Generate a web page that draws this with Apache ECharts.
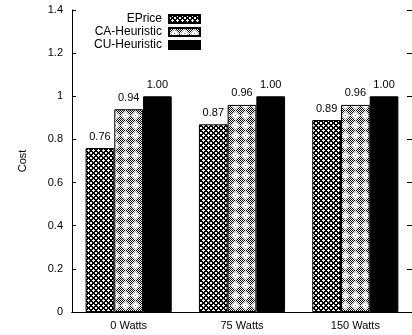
<!DOCTYPE html>
<html>
<head>
<meta charset="utf-8">
<script src="https://cdn.jsdelivr.net/npm/echarts@6/dist/echarts.min.js"></script>
<style>
  html, body { margin: 0; padding: 0; background: #fff; }
  #chart { width: 412px; height: 335px; }
</style>
</head>
<body>
<div id="chart"></div>
<script>
const categories = ['0 Watts', '75 Watts', '150 Watts']
const ePrice = [0.76, 0.87, 0.89]
const caHeuristic = [0.94, 0.96, 0.96]
const cuHeuristic = [1.00, 1.00, 1.00]
const yMin = 0
const yMax = 1.4
const yStep = 0.2

// small pixel tiles for the hatch fills
const makeTile = (size, pick) => {
  let c = document.createElement('canvas')
  c.width = size
  c.height = size
  let ctx = c.getContext('2d')
  ctx.fillStyle = '#fff'
  ctx.fillRect(0, 0, size, size)
  for (let y = 0; y < size; y++) {
    for (let x = 0; x < size; x++) {
      let col = pick(x, y)
      if (col) {
        ctx.fillStyle = col
        ctx.fillRect(x, y, 1, 1)
      }
    }
  }
  return c
}

// crosshatch
const crossTile = makeTile(5, (x, y) => {
  let a = (x + y) % 5
  let b = (x - y + 5) % 5
  return (a < 2 || b < 2) ? '#000' : null
})

// fine diamond motif, lighter
const diamondTile = makeTile(10, (x, y) => {
  let d = Math.abs(x - 5) + Math.abs(y - 5)
  if (d == 0) return '#888'
  if (d == 1) return (x + y) % 2 == 0 ? '#999' : null
  if (d <= 3) return null
  if (d == 4) return (x + y) % 2 == 1 ? '#000' : '#aaa'
  return (x + y) % 2 == 0 ? '#000' : null
})

const font = 'Liberation Sans'

const labelOpt = {
  show: true,
  position: 'top',
  distance: 6,
  color: '#000',
  fontFamily: font,
  fontSize: 11,
  formatter: p => p.value.toFixed(2)
}

const barStyle = (color) => ({
  color,
  borderColor: '#000',
  borderWidth: 1
})

let myChart = echarts.init(document.getElementById('chart'))
let option = {
  animation: false,
  backgroundColor: '#fff',
  textStyle: { fontFamily: font },
  grid: { left: 72, right: -1, top: 10, bottom: 23 },
  legend: {
    orient: 'vertical',
    align: 'right',
    right: 206,
    top: 8,
    itemWidth: 31,
    itemHeight: 8,
    itemGap: 1,
    icon: 'rect',
    textStyle: { color: '#000', fontSize: 12, fontFamily: font, padding: [0, 2, 0, 0] },
    data: ['EPrice', 'CA-Heuristic', 'CU-Heuristic']
  },
  xAxis: [
    {
      type: 'category',
      data: categories,
      axisLine: { lineStyle: { color: '#000', width: 1 } },
      axisTick: { inside: true, length: 4, alignWithLabel: true, lineStyle: { color: '#000' } },
      axisLabel: { color: '#000', fontSize: 11, fontFamily: font, margin: 8 }
    },
    {
      type: 'category',
      position: 'top',
      data: categories,
      axisLine: { lineStyle: { color: '#000', width: 1 } },
      axisTick: { inside: true, length: 4, alignWithLabel: true, lineStyle: { color: '#000' } },
      axisLabel: { show: false }
    }
  ],
  yAxis: [
    {
      type: 'value',
      min: yMin,
      max: yMax,
      interval: yStep,
      name: 'Cost',
      nameLocation: 'middle',
      nameGap: 44,
      nameRotate: 90,
      nameTextStyle: { color: '#000', fontSize: 11, fontFamily: font },
      axisLine: { show: true, lineStyle: { color: '#000', width: 1 } },
      axisTick: { show: true, inside: true, length: 4, lineStyle: { color: '#000' } },
      axisLabel: { color: '#000', fontSize: 11, fontFamily: font, margin: 9 },
      splitLine: { show: false }
    },
    {
      type: 'value',
      position: 'right',
      min: yMin,
      max: yMax,
      interval: yStep,
      axisLine: { show: true, lineStyle: { color: '#000', width: 1 } },
      axisTick: { show: true, inside: true, length: 5, lineStyle: { color: '#000' } },
      axisLabel: { show: false },
      splitLine: { show: false }
    }
  ],
  series: [
    {
      name: 'EPrice',
      type: 'bar',
      data: ePrice,
      barGap: '0%',
      barCategoryGap: '24%',
      itemStyle: barStyle({ image: crossTile, repeat: 'repeat' }),
      label: labelOpt
    },
    {
      name: 'CA-Heuristic',
      type: 'bar',
      data: caHeuristic,
      barGap: '0%',
      barCategoryGap: '24%',
      itemStyle: barStyle({ image: diamondTile, repeat: 'repeat' }),
      label: labelOpt
    },
    {
      name: 'CU-Heuristic',
      type: 'bar',
      data: cuHeuristic,
      barGap: '0%',
      barCategoryGap: '24%',
      itemStyle: barStyle('#000'),
      label: labelOpt
    }
  ]
}
myChart.setOption(option)
</script>
</body>
</html>
